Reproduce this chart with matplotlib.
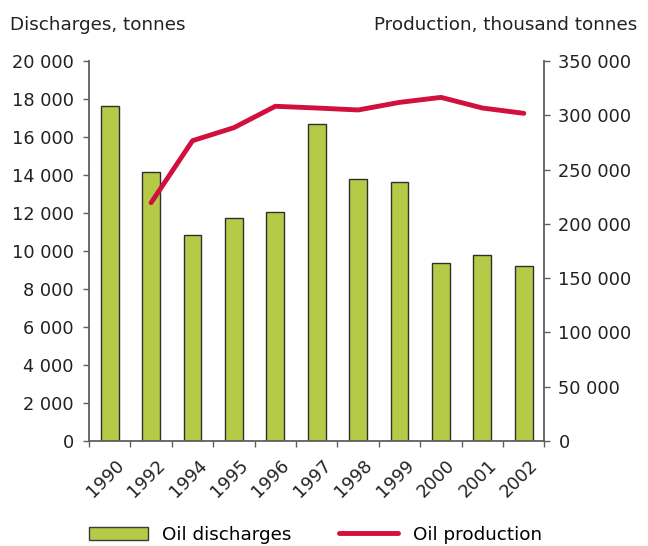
import matplotlib
matplotlib.use("Agg")
import matplotlib.pyplot as plt
import matplotlib.transforms as mtransforms
import numpy as np
from matplotlib.patches import Patch
from matplotlib.lines import Line2D

years = ["1990", "1992", "1994", "1995", "1996", "1997", "1998", "1999", "2000", "2001", "2002"]
discharges = [17630, 14170, 10830, 11720, 12070, 16700, 13790, 13610, 9350, 9810, 9190]
prod_years = ["1992", "1994", "1995", "1996", "1997", "1998", "1999", "2000", "2001", "2002"]
production = [219500, 276600, 288600, 308300, 306700, 304900, 311900, 316500, 306700, 301800]

left_ticks = list(range(0, 20001, 2000))
right_ticks = list(range(0, 350001, 50000))

def fmt(v):
    return f"{v:,}".replace(",", " ")

plt.rcParams['font.family'] = ['DejaVu Sans']
FS_TICK = 12.8
FS_TEXT = 13.2
fig = plt.figure(figsize=(6.48, 5.46), dpi=100)
ax = fig.add_axes([89/648, 1-441/546, (544.5-89)/648, 380/546])
ax2 = ax.twinx()

bar_color = "#b5cb48"
line_color = "#d2103f"
x = np.arange(len(years))
ax.bar(x, discharges, width=0.43, color=bar_color, edgecolor="#2f2f2f", linewidth=1.0, zorder=2)
px = [years.index(y) for y in prod_years]
ax2.plot(px, production, color=line_color, linewidth=3.5, solid_capstyle="round", solid_joinstyle="round")

ax.set_xlim(-0.5, len(years) - 0.5)
ax.set_ylim(0, 20000)
ax2.set_ylim(0, 350000)

grey = "#5f5f5f"
txt = "#222222"
ax.set_yticks(left_ticks)
ax.set_yticklabels([fmt(v) for v in left_ticks], fontsize=FS_TICK, color=txt)
ax2.set_yticks(right_ticks)
ax2.set_yticklabels([fmt(v) for v in right_ticks], fontsize=FS_TICK, color=txt)

ax.set_xticks(x)
ax.set_xticklabels(years, rotation=45, ha="right", va="top", rotation_mode="anchor", fontsize=FS_TICK, color=txt)
ax.tick_params(axis="x", which="major", length=0, pad=11)
offset = mtransforms.ScaledTranslation(5/100, 0, fig.dpi_scale_trans)
for lab in ax.get_xticklabels():
    lab.set_transform(lab.get_transform() + offset)
ax.set_xticks(np.arange(-0.5, len(years)), minor=True)
ax.tick_params(axis="x", which="minor", length=4.5, width=1, color=grey, direction="out")
ax.tick_params(axis="y", length=4, width=1, color=grey, direction="out", pad=7)
ax2.tick_params(axis="y", length=4, width=1, color=grey, direction="out", pad=6)

for a in (ax, ax2):
    a.spines["top"].set_visible(False)
    for s in ("left", "right", "bottom"):
        a.spines[s].set_color(grey)
        a.spines[s].set_linewidth(1.3)
ax.spines["right"].set_visible(False)
ax2.spines["left"].set_visible(False)
ax2.spines["bottom"].set_visible(False)

fig.text(10/648, 1-25/546, "Discharges, tonnes", fontsize=FS_TEXT, color=txt, ha="left", va="center")
fig.text(637/648, 1-25/546, "Production, thousand tonnes", fontsize=FS_TEXT, color=txt, ha="right", va="center")

handles = [Patch(facecolor=bar_color, edgecolor="#3a3a3a", linewidth=1.0, label="Oil discharges"),
           Line2D([0], [0], color=line_color, linewidth=3.5, solid_capstyle="round", label="Oil production")]
fig.legend(handles=handles, loc="center left", bbox_to_anchor=(89/648, 1-535/546), ncol=2, frameon=False,
           fontsize=FS_TEXT, handlelength=3.2, handleheight=0.77, columnspacing=2.6, handletextpad=0.8,
           borderaxespad=0, borderpad=0)

fig.savefig("out.png", dpi=100)
